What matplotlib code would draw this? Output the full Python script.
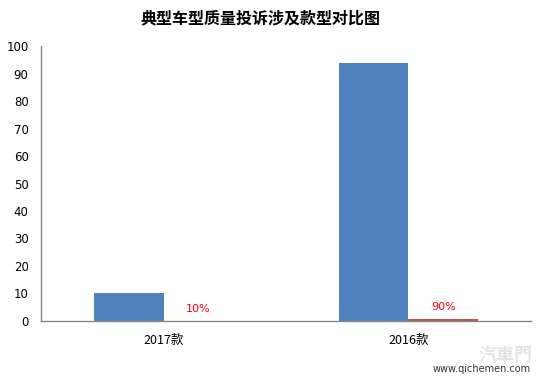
import matplotlib
matplotlib.use("Agg")
import matplotlib.pyplot as plt
import numpy as np

plt.rcParams['font.family'] = ['Noto Sans CJK SC', 'DejaVu Sans']

categories = ['2017款', '2016款']
counts = [10, 94]
shares = [0.1, 0.9]
share_labels = ['10%', '90%']

fig = plt.figure(figsize=(5.41, 3.78), dpi=100)
ax = fig.add_axes([0.0758, 0.1508, 0.9057, 0.7275])

x = np.arange(len(categories))
w = 0.285
ax.bar(x - w / 2, counts, w, color='#4F81BD')
ax.bar(x + w / 2, shares, w, color='#C0504D')
for xi, v, lab in zip(x, shares, share_labels):
    ax.text(xi + w / 2, v + 2.5, lab, color='#FF0000', fontsize=8,
            ha='center', va='bottom', family=['DejaVu Sans'])

ax.set_xlim(-0.5, 1.5)
ax.set_ylim(0, 100)
ax.set_yticks(range(0, 101, 10))
ax.set_yticklabels([str(v) for v in range(0, 101, 10)], family=['DejaVu Sans'])
ax.set_xticks(x)
ax.set_xticklabels(categories, fontsize=9)
ax.tick_params(axis='y', labelsize=8.5, length=0, pad=9)
ax.tick_params(axis='x', length=0, pad=9)
for s in ['top', 'right']:
    ax.spines[s].set_visible(False)
for s in ['left', 'bottom']:
    ax.spines[s].set_color('#868686')
    ax.spines[s].set_linewidth(1)

fig.text(0.481, 0.952, '典型车型质量投诉涉及款型对比图', ha='center', va='center',
         fontsize=11.5, fontweight='bold')

# watermark
fig.text(0.935, 0.06, '汽車門', ha='center', va='center', fontsize=13,
         color='#E4E4E4', fontweight='bold')
fig.text(0.89, 0.025, 'www.qichemen.com', ha='center', va='center', fontsize=7,
         color='#333333', family=['DejaVu Sans'])

fig.savefig('out.png', dpi=100)
